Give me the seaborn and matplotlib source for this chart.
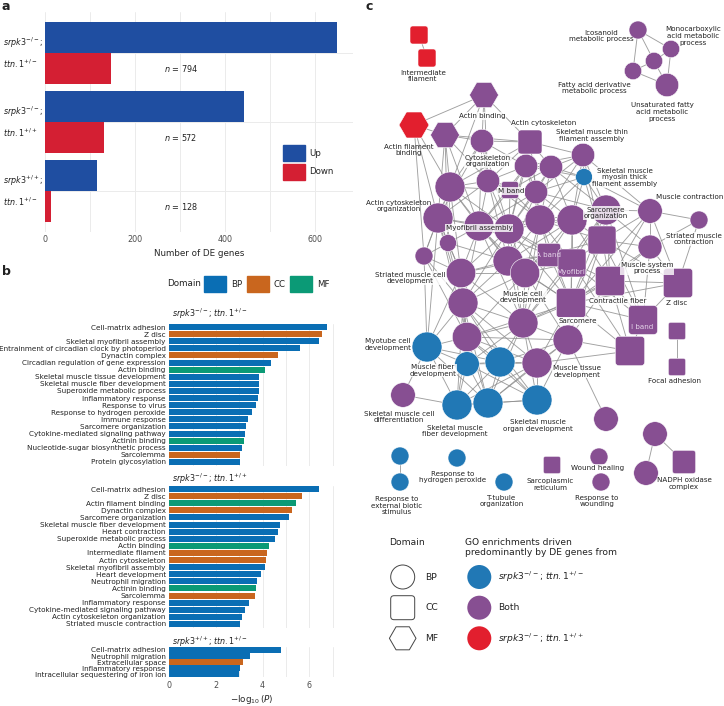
import numpy as np
import pandas as pd
import matplotlib
matplotlib.use("Agg")
import matplotlib.pyplot as plt
import seaborn as sns
from matplotlib.patches import Patch, Circle, FancyBboxPatch, RegularPolygon
from matplotlib.collections import LineCollection
from matplotlib import transforms

sns.set_theme(style="white")
plt.rcParams["font.family"] = ["DejaVu Sans"]
plt.rcParams["mathtext.fontset"] = "dejavusans"
plt.rcParams["text.color"] = "#222222"

# ---------------- panel a data: number of DE genes
genotypes = ["srpk3-/-; ttn.1+/-", "srpk3-/-; ttn.1+/+", "srpk3+/+; ttn.1+/-"]
genotype_top = [r"$\mathit{srpk3}^{-/-}$;", r"$\mathit{srpk3}^{-/-}$;", r"$\mathit{srpk3}^{+/+}$;"]
genotype_bottom = [r"$\mathit{ttn.1}^{+/-}$", r"$\mathit{ttn.1}^{+/+}$", r"$\mathit{ttn.1}^{+/-}$"]
up_counts = [648, 441, 115]
down_counts = [146, 131, 13]
n_genes = [794, 572, 128]

# ---------------- panel b data: GO enrichment
b1_terms = ["Cell-matrix adhesion", "Z disc", "Skeletal myofibril assembly",
            "Entrainment of circadian clock by photoperiod", "Dynactin complex",
            "Circadian regulation of gene expression", "Actin binding",
            "Skeletal muscle tissue development", "Skeletal muscle fiber development",
            "Superoxide metabolic process", "Inflammatory response", "Response to virus",
            "Response to hydrogen peroxide", "Immune response", "Sarcomere organization",
            "Cytokine-mediated signaling pathway", "Actinin binding",
            "Nucleotide-sugar biosynthetic process", "Sarcolemma", "Protein glycosylation"]
b1_logp = [6.74, 6.56, 6.40, 5.61, 4.64, 4.36, 4.09, 3.86, 3.83, 3.83,
           3.81, 3.73, 3.56, 3.37, 3.27, 3.23, 3.20, 3.11, 3.01, 3.01]
b1_domain = ["BP", "CC", "BP", "BP", "CC", "BP", "MF", "BP", "BP", "BP",
             "BP", "BP", "BP", "BP", "BP", "BP", "MF", "BP", "CC", "BP"]

b2_terms = ["Cell-matrix adhesion", "Z disc", "Actin filament binding", "Dynactin complex",
            "Sarcomere organization", "Skeletal muscle fiber development", "Heart contraction",
            "Superoxide metabolic process", "Actin binding", "Intermediate filament",
            "Actin cytoskeleton", "Skeletal myofibril assembly", "Heart development",
            "Neutrophil migration", "Actinin binding", "Sarcolemma", "Inflammatory response",
            "Cytokine-mediated signaling pathway", "Actin cytoskeleton organization",
            "Striated muscle contraction"]
b2_logp = [6.43, 5.70, 5.43, 5.26, 5.11, 4.74, 4.67, 4.53, 4.27, 4.19,
           4.16, 4.11, 3.93, 3.74, 3.73, 3.69, 3.40, 3.24, 3.13, 3.03]
b2_domain = ["BP", "CC", "MF", "CC", "BP", "BP", "BP", "BP", "MF", "CC",
             "CC", "BP", "BP", "BP", "MF", "CC", "BP", "BP", "BP", "BP"]

b3_terms = ["Cell-matrix adhesion", "Neutrophil migration", "Extracellular space",
            "Inflammatory response", "Intracellular sequestering of iron ion"]
b3_logp = [4.79, 3.46, 3.14, 3.03, 3.00]
b3_domain = ["BP", "BP", "CC", "BP", "BP"]

b_titles = [r"$\mathit{srpk3}^{-/-}$; $\mathit{ttn.1}^{+/-}$",
            r"$\mathit{srpk3}^{-/-}$; $\mathit{ttn.1}^{+/+}$",
            r"$\mathit{srpk3}^{+/+}$; $\mathit{ttn.1}^{+/-}$"]

# ---------------- panel c data: GO network (layout positions, node size)
node_x = [419, 427, 638, 671, 654, 633, 667, 484, 414, 445,
          482, 530, 526, 551, 583, 584, 450, 488, 510, 536,
          438, 479, 509, 540, 572, 606, 650, 699, 602, 448,
          650, 424, 461, 508, 525, 549, 572, 610, 678, 523,
          463, 571, 643, 630, 467, 568, 427, 467, 500, 537,
          403, 457, 488, 537, 606, 677, 677, 655, 646, 684,
          400, 400, 457, 504, 552, 599, 601]
node_y = [35, 58, 30, 49, 61, 71, 85, 95, 125, 135,
          141, 142, 166, 167, 155, 177, 187, 181, 190, 192,
          218, 226, 229, 220, 220, 210, 211, 220, 240, 243,
          247, 256, 273, 261, 273, 255, 263, 281, 283, 323,
          303, 303, 320, 351, 337, 340, 347, 364, 362, 363,
          395, 405, 403, 400, 419, 331, 367, 434, 473, 462,
          456, 482, 458, 482, 465, 457, 482]
node_size = [9, 9, 9, 8.7, 8.7, 8.7, 11.7, 14.5, 15, 14.5,
             11.7, 12, 11.7, 11.7, 11.7, 8.5, 15, 11.7, 8.5, 11.7,
             15, 15, 15, 15, 15, 15, 12.3, 9, 14, 8.5,
             12, 9, 14.7, 15, 14.7, 11.7, 14, 14.7, 14.7, 15,
             15, 14.7, 14.5, 14.7, 14.7, 15, 15, 12.3, 15, 15,
             12.3, 15, 15, 15, 12.3, 8.7, 8.7, 12.3, 12.3, 11.7,
             9, 9, 9, 9, 8.7, 9, 9]
node_domain = ["CC", "CC", "BP", "BP", "BP", "BP", "BP", "MF", "MF", "MF",
               "BP", "CC", "BP", "BP", "BP", "BP", "BP", "BP", "CC", "BP",
               "BP", "BP", "BP", "BP", "BP", "BP", "BP", "BP", "CC", "BP",
               "BP", "BP", "BP", "BP", "BP", "CC", "CC", "CC", "CC", "BP",
               "BP", "CC", "CC", "CC", "BP", "BP", "BP", "BP", "BP", "BP",
               "BP", "BP", "BP", "BP", "BP", "CC", "CC", "BP", "BP", "CC",
               "BP", "BP", "BP", "BP", "CC", "BP", "BP"]
node_driver = ["wt", "wt", "both", "both", "both", "both", "both", "both", "wt", "both",
               "both", "both", "both", "both", "both", "het", "both", "both", "both", "both",
               "both", "both", "both", "both", "both", "both", "both", "both", "both", "both",
               "both", "both", "both", "both", "both", "both", "both", "both", "both", "both",
               "both", "both", "both", "both", "both", "both", "het", "het", "het", "both",
               "both", "het", "het", "het", "both", "both", "both", "both", "both", "both",
               "het", "het", "het", "het", "both", "both", "both"]
edges = {
    0: [1], 2: [3, 4, 5], 3: [4, 6], 4: [5, 6], 5: [6],
    7: [8, 9, 10, 11, 16, 17], 8: [9, 16, 20, 31], 9: [10, 16, 20, 11, 17, 21, 29],
    10: [11, 16, 17, 12, 21, 20, 22], 11: [12, 13, 17, 19, 22, 14, 23, 16],
    12: [13, 17, 19, 22, 23, 18, 21, 15, 14], 13: [14, 15, 19, 23, 24, 25, 18, 22],
    14: [15, 25, 24, 26, 23, 19, 28], 15: [24, 25, 23, 19, 28, 26],
    16: [17, 20, 21, 22, 29, 31, 32, 18, 33], 17: [18, 19, 21, 22, 23, 20, 33],
    18: [19, 22, 23, 21], 19: [22, 23, 24, 21, 25, 33],
    20: [21, 29, 31, 32, 22, 40, 46, 44], 21: [22, 29, 32, 33, 34, 23, 40, 39, 35],
    22: [23, 33, 34, 35, 32, 24, 36, 39, 40, 41], 23: [24, 33, 34, 35, 36, 28, 25, 39, 41],
    24: [25, 28, 35, 36, 37, 41, 34, 33], 25: [26, 28, 30, 36, 37, 41, 42, 39],
    26: [27, 30, 28, 38, 37, 41], 27: [30, 38], 28: [30, 36, 37, 41, 35, 42, 38, 45],
    29: [31, 32, 40, 33], 30: [37, 38, 42, 41], 31: [32, 40, 46, 44],
    32: [33, 34, 40, 39, 44, 35, 46, 47], 33: [34, 35, 36, 39, 40, 41],
    34: [35, 36, 39, 40, 41, 44, 45], 35: [36, 41, 39], 36: [37, 41, 42, 43, 39],
    37: [38, 41, 42, 43, 45, 39], 38: [42, 41],
    39: [40, 41, 44, 45, 48, 49, 47, 52, 53], 40: [44, 46, 47, 48, 51, 52, 49, 53],
    41: [42, 43, 45, 49, 44], 42: [43], 43: [45, 49],
    44: [46, 47, 48, 49, 51, 52, 53, 45],
    45: [48, 49, 53, 54, 52], 46: [47, 50, 51, 48, 52], 47: [48, 51, 52, 53, 49],
    48: [49, 51, 52, 53], 49: [52, 53, 51], 50: [51], 51: [52, 53], 52: [53],
    55: [56], 57: [58, 59], 60: [61],
}

label_text = ["Intermediate\nfilament", "Icosanoid\nmetabolic process",
              "Monocarboxylic\nacid metabolic\nprocess", "Fatty acid derivative\nmetabolic process",
              "Unsaturated fatty\nacid metabolic\nprocess", "Actin binding", "Actin filament\nbinding",
              "Actin cytoskeleton", "Skeletal muscle thin\nfilament assembly",
              "Cytoskeleton\norganization", "Skeletal muscle\nmyosin thick\nfilament assembly",
              "M band", "Actin cytoskeleton\norganization", "Muscle contraction",
              "Sarcomere\norganization", "Myofibril assembly", "Striated muscle\ncontraction",
              "A band", "Myofibril", "Muscle system\nprocess", "Striated muscle cell\ndevelopment",
              "Muscle cell\ndevelopment", "Contractile fiber", "Z disc", "Sarcomere", "I band",
              "Myotube cell\ndevelopment", "Muscle fiber\ndevelopment", "Muscle tissue\ndevelopment",
              "Focal adhesion", "Skeletal muscle cell\ndifferentiation",
              "Skeletal muscle\nfiber development", "Skeletal muscle\norgan development",
              "Wound healing", "NADPH oxidase\ncomplex", "Response to\nhydrogen peroxide",
              "Sarcoplasmic\nreticulum", "Response to\nexternal biotic\nstimulus",
              "T-tubule\norganization", "Response to\nwounding"]
label_x = [423, 601, 693, 594, 662, 482, 409, 544, 592, 488, 625, 511, 399, 690, 606, 479,
           694, 549, 572, 647, 410, 523, 618, 677, 578, 642, 388, 433, 577, 675, 399, 455,
           538, 598, 684, 453, 550, 397, 502, 597]
label_y = [76, 36, 36, 88, 112, 116, 150, 123, 135.5, 161, 177.5, 191, 206, 197, 213, 228,
           239, 255, 272, 268, 278, 297, 301, 303, 321, 327, 344.5, 370.5, 371.5, 381, 417,
           431, 425.5, 468, 483.5, 477, 484.5, 505.5, 501, 501]
label_kind = ["plain", "plain", "plain", "plain", "plain", "box", "plain", "box", "box", "box",
              "box", "box", "plain", "plain", "box", "box", "box", "light", "light", "box",
              "box", "box", "box", "plain", "box", "light", "plain", "box", "box", "plain",
              "plain", "plain", "plain", "box", "plain", "plain", "plain", "plain", "plain",
              "plain"]

UP, DOWN = "#1f4ea1", "#d41f33"
dom_colors = {"BP": "#0a6eb4", "CC": "#c9661e", "MF": "#0b9a76"}
drv_colors = {"het": "#2178b5", "both": "#874f92", "wt": "#e21f2e"}

W, H = 724, 706
fig = plt.figure(figsize=(W / 100, H / 100), dpi=100)


def box(l, t, r, b):
    return [l / W, 1 - b / H, (r - l) / W, (b - t) / H]


# ---------------- panel a
ax_a = fig.add_axes(box(45, 12, 353, 232))
df_a = pd.DataFrame({"geno": genotypes * 2, "count": up_counts + down_counts,
                     "dir": ["Up"] * 3 + ["Down"] * 3})
sns.barplot(data=df_a, y="geno", x="count", hue="dir", hue_order=["Up", "Down"],
            palette={"Up": UP, "Down": DOWN}, orient="h", width=0.9, saturation=1,
            legend=False, ax=ax_a, linewidth=0)
ax_a.set_xlim(0, 684)
ax_a.set_ylim(2.594, -0.594)
ax_a.set_xticks([0, 200, 400, 600])
ax_a.set_xticks([100, 300, 500], minor=True)
ax_a.grid(True, axis="x", which="both", color="#ebebeb", lw=0.7)
ax_a.grid(True, axis="y", color="#ebebeb", lw=0.7)
ax_a.set_axisbelow(True)
ax_a.set_yticklabels([])
ax_a.tick_params(length=0, labelsize=5.8, labelcolor="#4d4d4d", pad=2.5)
ax_a.set_xlabel("Number of DE genes", fontsize=6.3, labelpad=3)
ax_a.set_ylabel("")
for s in ax_a.spines.values():
    s.set_visible(False)
tr = transforms.blended_transform_factory(fig.transFigure, ax_a.transData)
for i in range(3):
    ax_a.text(3 / W, i - 0.15, genotype_top[i], transform=tr, fontsize=5.8, va="center", ha="left")
    ax_a.text(3 / W, i + 0.16, genotype_bottom[i], transform=tr, fontsize=5.8, va="center", ha="left")
    ax_a.text(302, i + 0.22, r"$n$ = %d" % n_genes[i], fontsize=5.9, va="center", ha="center")
ax_a.legend(handles=[Patch(color=UP), Patch(color=DOWN)], labels=["Up", "Down"],
            loc="upper left", bbox_to_anchor=(283 / W, 1 - 145 / H), bbox_transform=fig.transFigure,
            frameon=False, fontsize=6.2, handlelength=2.55, handleheight=2.55,
            handletextpad=0.5, labelspacing=0.25, borderpad=0, borderaxespad=0)

# ---------------- panel b
fig.text(167 / W, 1 - 284 / H, "Domain", fontsize=6.3, va="center")
fig.legend(handles=[Patch(color=dom_colors[d]) for d in ["BP", "CC", "MF"]],
           labels=["BP", "CC", "MF"], ncol=3, loc="center left",
           bbox_to_anchor=(204 / W, 1 - 284 / H), frameon=False, fontsize=6.2,
           handlelength=2.55, handleheight=2.55, handletextpad=0.55, columnspacing=0.55,
           borderpad=0, borderaxespad=0)

b_sets = [(b1_terms, b1_logp, b1_domain, (323.5, 465.5), 314),
          (b2_terms, b2_logp, b2_domain, (485.5, 627.5), 479),
          (b3_terms, b3_logp, b3_domain, (647, 677), 642)]
for k, (terms, vals, doms, (top, bot), ty) in enumerate(b_sets):
    ax = fig.add_axes(box(169.3, top, 334, bot))
    df = pd.DataFrame({"term": terms, "logp": vals, "dom": doms})
    sns.barplot(data=df, y="term", x="logp", hue="dom", palette=dom_colors, dodge=False,
                orient="h", width=0.85, saturation=1, legend=False, ax=ax, linewidth=0)
    ax.set_xlim(0, 7.06)
    ax.set_ylim(len(terms) - 0.5, -0.5)
    ax.set_xticks(range(0, 8))
    ax.grid(True, axis="x", color="#ebebeb", lw=0.7)
    ax.set_axisbelow(True)
    ax.set_ylabel("")
    ax.tick_params(axis="y", length=0, labelsize=5.2, pad=2.5, labelcolor="#222222")
    ax.tick_params(axis="x", length=0, labelsize=5.8, labelcolor="#4d4d4d", pad=3)
    if k == 2:
        ax.set_xticklabels(["0", "", "2", "", "4", "", "6", ""])
        ax.set_xlabel(r"$-\log_{10}(P)$", fontsize=6.3, labelpad=2)
    else:
        ax.set_xticklabels([])
        ax.set_xlabel("")
    for s in ax.spines.values():
        s.set_visible(False)
    fig.text(172 / W, 1 - ty / H, b_titles[k], fontsize=5.8, va="center", ha="left")

# ---------------- panel c
ax_c = fig.add_axes([360 / W, 0, 364 / W, 1])
ax_c.set_xlim(360, 724)
ax_c.set_ylim(706, 0)
ax_c.axis("off")

segs = [[(node_x[a], node_y[a]), (node_x[b], node_y[b])] for a, nb in edges.items() for b in nb]
ax_c.add_collection(LineCollection(segs, colors="#8f8f8f", linewidths=0.65, alpha=0.85, zorder=1))


def shape_patch(x, y, r, dom, fc, ec, lw):
    if dom == "BP":
        return Circle((x, y), r, fc=fc, ec=ec, lw=lw)
    if dom == "CC":
        return FancyBboxPatch((x - r, y - r), 2 * r, 2 * r,
                              boxstyle="round,pad=0,rounding_size=%.2f" % (r * 0.28),
                              fc=fc, ec=ec, lw=lw)
    return RegularPolygon((x, y), 6, radius=r, orientation=np.pi / 6, fc=fc, ec=ec, lw=lw)


for x, y, r, d, g in zip(node_x, node_y, node_size, node_domain, node_driver):
    p = shape_patch(x, y, r, d, drv_colors[g], "white", 0.4)
    p.set_zorder(2)
    ax_c.add_patch(p)

for t, x, y, kind in zip(label_text, label_x, label_y, label_kind):
    kw = dict(fontsize=5.1, ha="center", va="center", linespacing=1.15, zorder=3)
    if kind == "light":
        ax_c.text(x, y, t, color="#e6d6ea", **kw)
    elif kind == "box":
        ax_c.text(x, y, t, color="#222222",
                  bbox=dict(boxstyle="square,pad=0.08", fc="white", ec="none", alpha=0.8), **kw)
    else:
        ax_c.text(x, y, t, color="#222222", **kw)

# panel c legend
ax_c.text(406.7, 542.3, "Domain", fontsize=6.6, ha="center", va="center")
ax_c.text(465, 547.5, "GO enrichments driven\npredominantly by DE genes from", fontsize=6.6,
          ha="left", va="center", linespacing=1.15)
leg_y = [577, 607.7, 638.3]
for d, yy in zip(["BP", "CC", "MF"], leg_y):
    rr = 13.3 if d == "MF" else 12
    ax_c.add_patch(shape_patch(402.7, yy, rr, d, "none", "#444444", 0.7))
    ax_c.text(425, yy, d, fontsize=6.6, va="center", ha="left")
drv_labels = [r"$\mathit{srpk3}^{-/-}$; $\mathit{ttn.1}^{+/-}$", "Both",
              r"$\mathit{srpk3}^{-/-}$; $\mathit{ttn.1}^{+/+}$"]
for g, lab, yy in zip(["het", "both", "wt"], drv_labels, leg_y):
    ax_c.add_patch(Circle((479.3, yy), 12, fc=drv_colors[g], ec="none"))
    ax_c.text(497.7, yy, lab, fontsize=6.6, va="center", ha="left")

# panel letters
for lab, x, y in [("a", 2, 7), ("b", 2, 271), ("c", 366, 7)]:
    fig.text(x / W, 1 - y / H, lab, fontsize=9, fontweight="bold", va="center", ha="left")

fig.savefig("out.png", dpi=100)
